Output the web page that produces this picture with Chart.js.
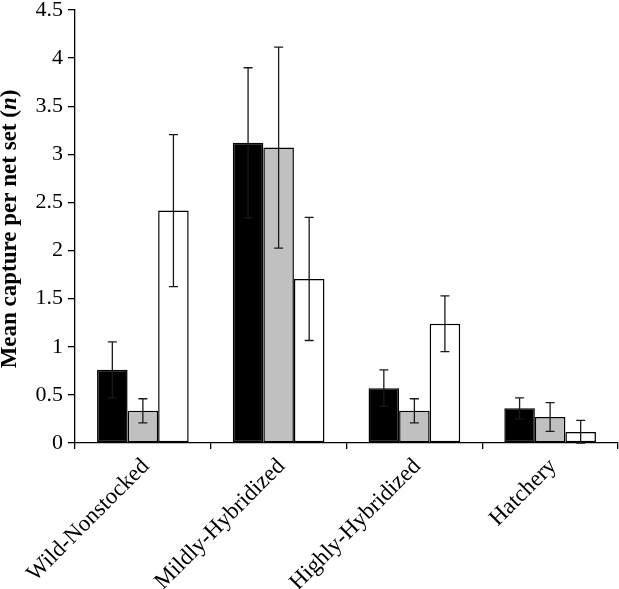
<!DOCTYPE html>
<html>
<head>
<meta charset="utf-8">
<script src="https://cdn.jsdelivr.net/npm/chart.js@4"></script>
<style>
  html, body { margin: 0; padding: 0; background: #fff; }
  #wrap { width: 619px; height: 589px; }
</style>
</head>
<body>
<div id="wrap"><canvas id="plot1" width="619" height="589"></canvas></div>
<script>
// categories and values
const categories = ["Wild-Nonstocked", "Mildly-Hybridized", "Highly-Hybridized", "Hatchery"];
const blackMeans = [0.76, 3.12, 0.57, 0.36];
const blackErrors = [0.29, 0.78, 0.19, 0.11];
const grayMeans = [0.335, 3.07, 0.335, 0.27];
const grayErrors = [0.125, 1.045, 0.125, 0.15];
const whiteMeans = [2.415, 1.705, 1.24, 0.115];
const whiteErrors = [0.79, 0.64, 0.29, 0.12];
const yTickLabels = ["0", "0.5", "1", "1.5", "2", "2.5", "3", "3.5", "4", "4.5"];

const SERIF = "'Liberation Serif', serif";

// draws the whiskers on top of each bar
const errorBars = {
    id: 'errorBars',
    afterDatasetsDraw(chart) {
        const ctx = chart.ctx;
        const yScale = chart.scales.y;
        ctx.save();
        ctx.strokeStyle = "#1a1a1a";
        ctx.lineWidth = 1.3;
        chart.data.datasets.forEach((ds, i) => {
            const meta = chart.getDatasetMeta(i);
            meta.data.forEach((bar, j) => {
                const v = ds.data[j], e = ds.errors[j];
                const top = yScale.getPixelForValue(v + e);
                const bot = yScale.getPixelForValue(Math.max(0, v - e));
                const x = bar.x;
                ctx.beginPath();
                ctx.moveTo(x, top); ctx.lineTo(x, bot);
                ctx.moveTo(x - 4.5, top); ctx.lineTo(x + 4.5, top);
                ctx.moveTo(x - 4.5, bot); ctx.lineTo(x + 4.5, bot);
                ctx.stroke();
            });
        });
        ctx.restore();
    }
};

// y axis title with an italic n
const yTitle = {
    id: 'yTitle',
    afterDraw(chart) {
        const ctx = chart.ctx;
        const area = chart.chartArea;
        const parts = [
            ["Mean capture per net set (", "bold 23px " + SERIF],
            ["n", "italic bold 23px " + SERIF],
            [")", "bold 23px " + SERIF]
        ];
        let total = 0;
        parts.forEach(p => { ctx.font = p[1]; total += ctx.measureText(p[0]).width; });
        ctx.save();
        ctx.translate(10, (area.top + area.bottom) / 2 + 2.5);
        ctx.rotate(-Math.PI / 2);
        ctx.fillStyle = "#000";
        ctx.textBaseline = "middle";
        let x = -total / 2;
        parts.forEach(p => {
            ctx.font = p[1];
            ctx.fillText(p[0], x, 0);
            x += ctx.measureText(p[0]).width;
        });
        ctx.restore();
    }
};

function makeSet(label, data, errors, fill) {
    return {
        label: label,
        data: data,
        errors: errors,
        backgroundColor: fill,
        borderColor: "#000",
        borderWidth: 1.5,
        borderSkipped: false,
        categoryPercentage: 0.675,
        barPercentage: 1.0
    };
}

var ctx = document.getElementById("plot1").getContext("2d");
var captureChart = new Chart(ctx, {
    type: 'bar',
    data: {
        labels: categories,
        datasets: [
            makeSet("black", blackMeans, blackErrors, "#000000"),
            makeSet("gray", grayMeans, grayErrors, "#c0c0c0"),
            makeSet("white", whiteMeans, whiteErrors, "#ffffff")
        ]
    },
    options: {
        responsive: false,
        animation: false,
        layout: { padding: { top: 10, right: 1, left: 0, bottom: 0 } },
        plugins: {
            legend: { display: false },
            tooltip: { enabled: false }
        },
        scales: {
            x: {
                afterFit(scale) { scale.height = 146; scale.paddingLeft = 0; scale.paddingRight = 0; },
                grid: { offset: true, drawOnChartArea: false, tickLength: 6, color: "#000", lineWidth: 1.3 },
                border: { color: "#000", width: 1.3 },
                ticks: {
                    minRotation: 45, maxRotation: 45, autoSkip: false,
                    color: "#000", padding: 4, labelOffset: 3,
                    font: { family: SERIF, size: 23 }
                }
            },
            y: {
                min: 0, max: 4.5,
                afterFit(scale) { scale.width = 75; scale.paddingTop = 0; scale.paddingBottom = 0; },
                grid: { drawOnChartArea: false, tickLength: 7, color: "#000", lineWidth: 1.3 },
                border: { color: "#000", width: 1.3 },
                ticks: {
                    stepSize: 0.5, color: "#000", padding: 5,
                    font: { family: SERIF, size: 22 },
                    callback: (v, i) => yTickLabels[i]
                }
            }
        }
    },
    plugins: [errorBars, yTitle]
});
</script>
</body>
</html>
